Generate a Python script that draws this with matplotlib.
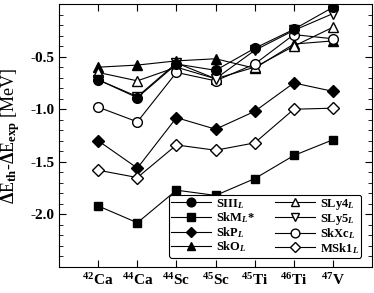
import matplotlib
matplotlib.use("Agg")
import matplotlib.pyplot as plt
from matplotlib.ticker import MultipleLocator

plt.rcParams['font.family'] = ['Liberation Serif', 'DejaVu Serif']
plt.rcParams['font.weight'] = 'bold'
plt.rcParams['mathtext.fontset'] = 'custom'
plt.rcParams['mathtext.rm'] = 'Liberation Serif:bold'
plt.rcParams['mathtext.it'] = 'Liberation Serif:italic:bold'
plt.rcParams['mathtext.bf'] = 'Liberation Serif:bold'

# nuclei on the x axis
nuclei = ['$^{42}$Ca', '$^{44}$Ca', '$^{44}$Sc', '$^{45}$Sc', '$^{45}$Ti', '$^{46}$Ti', '$^{47}$V']

# Delta E_th - Delta E_exp [MeV] per force
siii = [-0.72, -0.89, -0.57, -0.63, -0.42, -0.24, -0.03]
skm = [-1.92, -2.08, -1.77, -1.82, -1.66, -1.44, -1.29]
skp = [-1.30, -1.56, -1.08, -1.19, -1.02, -0.75, -0.83]
sko = [-0.60, -0.58, -0.54, -0.52, -0.61, -0.38, -0.35]
sly4 = [-0.65, -0.73, -0.60, -0.71, -0.60, -0.40, -0.22]
sly5 = [-0.72, -0.88, -0.56, -0.71, -0.44, -0.25, -0.09]
skxc = [-0.98, -1.12, -0.65, -0.73, -0.57, -0.29, -0.33]
msk1 = [-1.58, -1.65, -1.34, -1.39, -1.32, -1.00, -0.99]

x = list(range(1, len(nuclei) + 1))

fig = plt.figure(figsize=(3.74, 2.93), dpi=100)
ax = fig.add_axes([0.158, 0.089, 0.837, 0.897])

lw = 0.8
ms = 7
ax.plot(x, sko, '-^', color='k', mfc='k', ms=ms, lw=lw, label='SkO$_{\\mathit{L}}$')
ax.plot(x, sly4, '-^', color='k', mfc='w', ms=ms, lw=lw, label='SLy4$_{\\mathit{L}}$')
ax.plot(x, skxc, '-o', color='k', mfc='w', ms=ms, lw=lw, label='SkXc$_{\\mathit{L}}$')
ax.plot(x, sly5, '-v', color='k', mfc='w', ms=ms, lw=lw, label='SLy5$_{\\mathit{L}}$')
ax.plot(x, siii, '-o', color='k', mfc='k', ms=ms, lw=lw, label='SIII$_{\\mathit{L}}$')
ax.plot(x, skm, '-s', color='k', mfc='k', ms=6, lw=lw, label='SkM$_{\\mathit{L}}$*')
ax.plot(x, skp, '-D', color='k', mfc='k', ms=6, lw=lw, label='SkP$_{\\mathit{L}}$')
ax.plot(x, msk1, '-D', color='k', mfc='w', ms=6, lw=lw, label='MSk1$_{\\mathit{L}}$')

ax.set_xlim(0, 8)
ax.set_ylim(-2.5, 0)
ax.set_xticks(x)
ax.set_xticklabels(nuclei, fontsize=11)
ax.yaxis.set_major_locator(MultipleLocator(0.5))
ax.yaxis.set_minor_locator(MultipleLocator(0.1))
ax.set_yticks([-2.0, -1.5, -1.0, -0.5])
ax.set_yticklabels(['-2.0', '-1.5', '-1.0', '-0.5'], fontsize=11)
ax.tick_params(which='both', direction='in', top=True, right=True)
ax.tick_params(which='major', length=5)
ax.tick_params(which='minor', length=3)
ax.set_ylabel('$\\Delta$E$_{\\rm th}$-$\\Delta$E$_{\\rm exp}$ [MeV]', fontsize=13, labelpad=6)

h, l = ax.get_legend_handles_labels()
order = ['SIII$_{\\mathit{L}}$', 'SkM$_{\\mathit{L}}$*', 'SkP$_{\\mathit{L}}$', 'SkO$_{\\mathit{L}}$',
         'SLy4$_{\\mathit{L}}$', 'SLy5$_{\\mathit{L}}$', 'SkXc$_{\\mathit{L}}$', 'MSk1$_{\\mathit{L}}$']
hd = dict(zip(l, h))
leg = ax.legend([hd[k] for k in order], order, ncol=2, loc='lower right',
                bbox_to_anchor=(0.985, 0.012), fontsize=9, frameon=True,
                fancybox=True, handlelength=3.2, handletextpad=0.4,
                columnspacing=1.6, labelspacing=-0.02, borderpad=0.15,
                markerscale=0.9)
leg.get_frame().set_edgecolor('k')
leg.get_frame().set_linewidth(0.8)
leg.get_frame().set_alpha(1)

fig.savefig('out.png', dpi=100)
